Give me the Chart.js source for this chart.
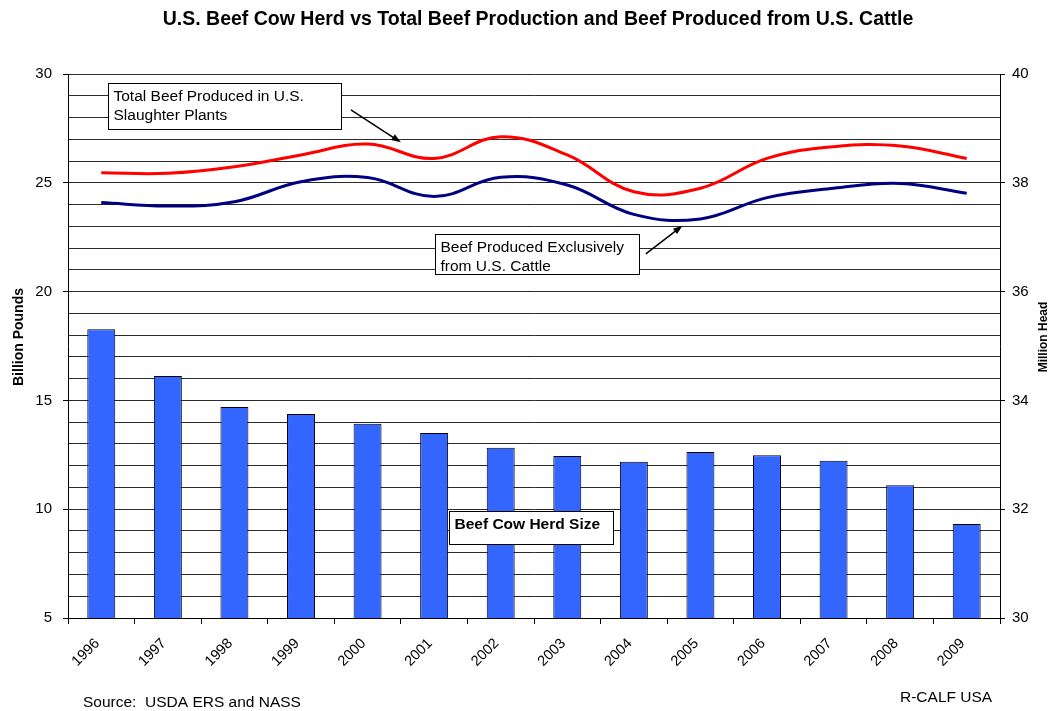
<!DOCTYPE html>
<html>
<head>
<meta charset="utf-8">
<script src="https://cdn.jsdelivr.net/npm/chart.js@4"></script>
<style>
  html, body { margin: 0; padding: 0; background: #fff; }
  #wrap { width: 1052px; height: 711px; }
</style>
</head>
<body>
<div id="wrap"><canvas id="chart" width="1052" height="711"></canvas></div>
<script>
// ---- data ----
const years = ['1996', '1997', '1998', '1999', '2000', '2001', '2002',
               '2003', '2004', '2005', '2006', '2007', '2008', '2009'];
// beef cow herd, million head (right axis)
const herdSize = [35.31, 34.45, 33.88, 33.75, 33.57, 33.40, 33.13,
                  32.98, 32.87, 33.05, 32.99, 32.89, 32.44, 31.73];
// total beef produced in U.S. slaughter plants, billion pounds
const totalBeef = [25.46, 25.44, 25.74, 26.28, 26.78, 26.12, 27.12,
                   26.28, 24.59, 24.75, 26.12, 26.66, 26.69, 26.12];
// beef produced from U.S. cattle only, billion pounds
const usCattleBeef = [24.09, 23.93, 24.13, 25.05, 25.24, 24.37, 25.25,
                      24.90, 23.55, 23.34, 24.32, 24.75, 24.97, 24.52];

const FONT = 'Arial, "Liberation Sans", Helvetica, sans-serif';

// ---- callout boxes, placed in axis units (category index, billion pounds) ----
const notes = [
  { x0: 0.10, x1: 3.60, y0: 29.60, y1: 27.47, bold: false,
    lines: ['Total Beef Produced in U.S.', 'Slaughter Plants'],
    arrow: { from: [3.75, 28.35], to: [4.50, 26.86] } },
  { x0: 5.01, x1: 8.08, y0: 22.65, y1: 20.81, bold: false,
    lines: ['Beef Produced Exclusively', 'from U.S. Cattle'],
    arrow: { from: [8.18, 21.73], to: [8.73, 23.03] } },
  { x0: 5.22, x1: 7.68, y0: 9.92, y1: 8.40, bold: true,
    lines: ['Beef Cow Herd Size'] },
];

const decorPlugin = {
  id: 'decor',
  afterDatasetsDraw(chart) {
    const { ctx } = chart;
    const xs = chart.scales.x, ys = chart.scales.y;
    const step = xs.width / years.length;
    const px = i => xs.left + (i + 0.5) * step;
    const py = v => ys.getPixelForValue(v);

    ctx.save();
    notes.forEach(n => {
      const l = Math.round(px(n.x0)) + 0.5, r = Math.round(px(n.x1)) + 0.5;
      const t = Math.round(py(n.y0)) + 0.5, b = Math.round(py(n.y1)) + 0.5;
      ctx.fillStyle = '#fff';
      ctx.fillRect(l, t, r - l, b - t);
      ctx.strokeStyle = '#000';
      ctx.lineWidth = 1;
      ctx.strokeRect(l, t, r - l, b - t);
      ctx.fillStyle = '#000';
      ctx.font = (n.bold ? 'bold ' : '') + '15.5px ' + FONT;
      ctx.textAlign = 'left';
      ctx.textBaseline = 'alphabetic';
      n.lines.forEach((s, k) => ctx.fillText(s, l + 5, t + 17 + k * 19.5));

      if (n.arrow) {
        const x1 = px(n.arrow.from[0]), y1 = py(n.arrow.from[1]);
        const x2 = px(n.arrow.to[0]), y2 = py(n.arrow.to[1]);
        const ang = Math.atan2(y2 - y1, x2 - x1);
        ctx.beginPath();
        ctx.moveTo(x1, y1);
        ctx.lineTo(x2 - 6 * Math.cos(ang), y2 - 6 * Math.sin(ang));
        ctx.lineWidth = 1.5;
        ctx.stroke();
        ctx.beginPath();
        ctx.moveTo(x2, y2);
        ctx.lineTo(x2 - 10 * Math.cos(ang - 0.35), y2 - 10 * Math.sin(ang - 0.35));
        ctx.lineTo(x2 - 10 * Math.cos(ang + 0.35), y2 - 10 * Math.sin(ang + 0.35));
        ctx.closePath();
        ctx.fill();
      }
    });
    ctx.restore();
  },
  afterDraw(chart) {
    const { ctx, chartArea } = chart;
    const midY = (chartArea.top + chartArea.bottom) / 2 - 9;
    ctx.save();
    ctx.fillStyle = '#000';
    ctx.textAlign = 'center';
    ctx.textBaseline = 'alphabetic';

    ctx.font = 'bold 19.5px ' + FONT;
    ctx.fillText('U.S. Beef Cow Herd vs Total Beef Production and Beef Produced from U.S. Cattle', 538, 25);

    // axis titles, both reading bottom to top
    ctx.font = 'bold 14px ' + FONT;
    ctx.save();
    ctx.translate(23, midY);
    ctx.rotate(-Math.PI / 2);
    ctx.fillText('Billion Pounds', 0, 0);
    ctx.restore();

    ctx.font = 'bold 12px ' + FONT;
    ctx.save();
    ctx.translate(1047, midY);
    ctx.rotate(-Math.PI / 2);
    ctx.fillText('Million Head', 0, 0);
    ctx.restore();

    ctx.font = '15.5px ' + FONT;
    ctx.textAlign = 'left';
    ctx.fillText('Source:  USDA ERS and NASS', 83, 707);
    ctx.fillText('R-CALF USA', 900, 702);
    ctx.restore();
  }
};

new Chart(document.getElementById('chart'), {
  type: 'bar',
  data: {
    labels: years,
    datasets: [
      {
        type: 'line',
        label: 'Total Beef Produced in U.S. Slaughter Plants',
        data: totalBeef,
        yAxisID: 'y',
        borderColor: '#ff0000',
        borderWidth: 3,
        pointRadius: 0,
        tension: 0.4,
        fill: false,
        order: 0,
      },
      {
        type: 'line',
        label: 'Beef Produced Exclusively from U.S. Cattle',
        data: usCattleBeef,
        yAxisID: 'y',
        borderColor: '#000080',
        borderWidth: 3,
        pointRadius: 0,
        tension: 0.4,
        fill: false,
        order: 0,
      },
      {
        type: 'bar',
        label: 'Beef Cow Herd Size',
        data: herdSize,
        yAxisID: 'y2',
        backgroundColor: '#3366ff',
        borderColor: '#000',
        borderWidth: 1,
        categoryPercentage: 1,
        barPercentage: 0.42,
        order: 1,
      },
    ]
  },
  options: {
    responsive: false,
    animation: false,
    layout: { padding: { top: 74, left: 0, right: 0, bottom: 0 } },
    plugins: {
      legend: { display: false },
      title: { display: false },
      tooltip: { enabled: false },
    },
    scales: {
      x: {
        offset: true,
        grid: { display: true, drawOnChartArea: false, offset: true, tickLength: 6, color: '#000' },
        border: { display: true, color: '#000', width: 1 },
        ticks: {
          color: '#000',
          font: { family: FONT, size: 14.5 },
          maxRotation: 45, minRotation: 45,
          autoSkip: false,
          padding: 11,
          labelOffset: -4,
        },
        afterFit: s => { s.height = 93; },
      },
      y: {
        position: 'left',
        min: 5, max: 30,
        ticks: {
          stepSize: 1,
          autoSkip: false,
          color: '#000',
          padding: 11,
          font: { family: FONT, size: 15 },
          callback: v => (v % 5 === 0 ? v : ''),
        },
        grid: {
          color: '#2a2a2a',
          lineWidth: 1,
          tickLength: 5,
          tickColor: c => (c.tick && c.tick.value % 5 === 0 ? '#000' : 'rgba(0,0,0,0)'),
        },
        border: { display: true, color: '#000', width: 1 },
        afterFit: s => { s.width = 68; },
      },
      y2: {
        position: 'right',
        min: 30, max: 40,
        ticks: {
          stepSize: 2,
          color: '#000',
          padding: 7,
          font: { family: FONT, size: 15 },
        },
        grid: { drawOnChartArea: false, tickLength: 5, color: '#000' },
        border: { display: true, color: '#000', width: 1 },
        afterFit: s => { s.width = 52; },
      },
    }
  },
  plugins: [decorPlugin]
});
</script>
</body>
</html>
